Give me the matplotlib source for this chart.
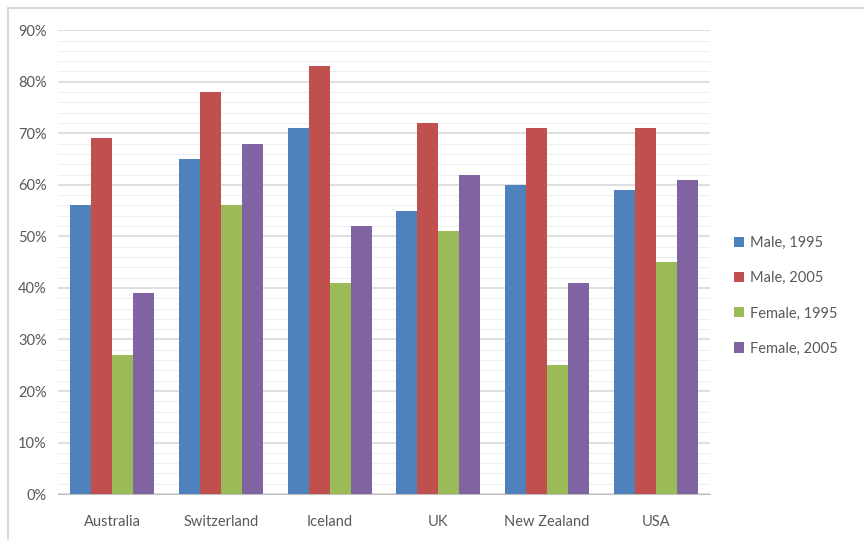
import matplotlib.pyplot as plt
from matplotlib.lines import Line2D
import numpy as np

countries = ['Australia', 'Switzerland', 'Iceland', 'UK', 'New Zealand', 'USA']
male_1995 = [56, 65, 71, 55, 60, 59]
male_2005 = [69, 78, 83, 72, 71, 71]
female_1995 = [27, 56, 41, 51, 25, 45]
female_2005 = [39, 68, 52, 62, 41, 61]
series_names = ['Male, 1995', 'Male, 2005', 'Female, 1995', 'Female, 2005']
colors = ['#4F81BD', '#C0504D', '#9BBB59', '#8064A2']

plt.rcParams['font.family'] = ['Lato', 'DejaVu Sans']
txt = '#595959'

fig = plt.figure(figsize=(8.64, 5.4), dpi=100)
ax = fig.add_axes([0.067, 0.085, 0.755, 0.859])

# light border only on top and left, as in the cropped screenshot
fig.lines.append(Line2D([0.009, 0.009], [0.0, 0.986], transform=fig.transFigure,
                        color='#D9D9D9', linewidth=1.5))
fig.lines.append(Line2D([0.009, 1.0], [0.986, 0.986], transform=fig.transFigure,
                        color='#D9D9D9', linewidth=1.5))

x = np.arange(len(countries))
w = 0.193
data = [male_1995, male_2005, female_1995, female_2005]
for i, vals in enumerate(data):
    ax.bar(x + (i - 1.5) * w, vals, width=w, color=colors[i], label=series_names[i], zorder=3)

ax.set_xlim(-0.5, len(countries) - 0.5)
ax.set_ylim(0, 90)
ax.set_yticks(range(0, 91, 10))
ax.set_yticklabels([f'{v}%' for v in range(0, 91, 10)], color=txt, fontsize=10.5)
ax.set_yticks(range(0, 91, 2), minor=True)
ax.set_xticks(x)
ax.set_xticklabels(countries, color=txt, fontsize=10.5)
ax.tick_params(axis='y', length=0, pad=8)
ax.tick_params(axis='x', length=0, pad=15)
ax.tick_params(axis='y', which='minor', length=0)

ax.grid(axis='y', which='major', color='#D9D9D9', linewidth=1.2, zorder=0)
ax.grid(axis='y', which='minor', color='#EFEFEF', linewidth=0.8, zorder=0)
for s in ['top', 'right', 'left']:
    ax.spines[s].set_visible(False)
ax.spines['bottom'].set_color('#BFBFBF')

leg = fig.legend(loc='center left', bbox_to_anchor=(0.834, 0.452), frameon=False,
                 fontsize=10.5, handlelength=0.7, handleheight=0.7, handletextpad=0.4,
                 labelspacing=1.45)
for t in leg.get_texts():
    t.set_color(txt)

fig.savefig('out.png', dpi=100)
